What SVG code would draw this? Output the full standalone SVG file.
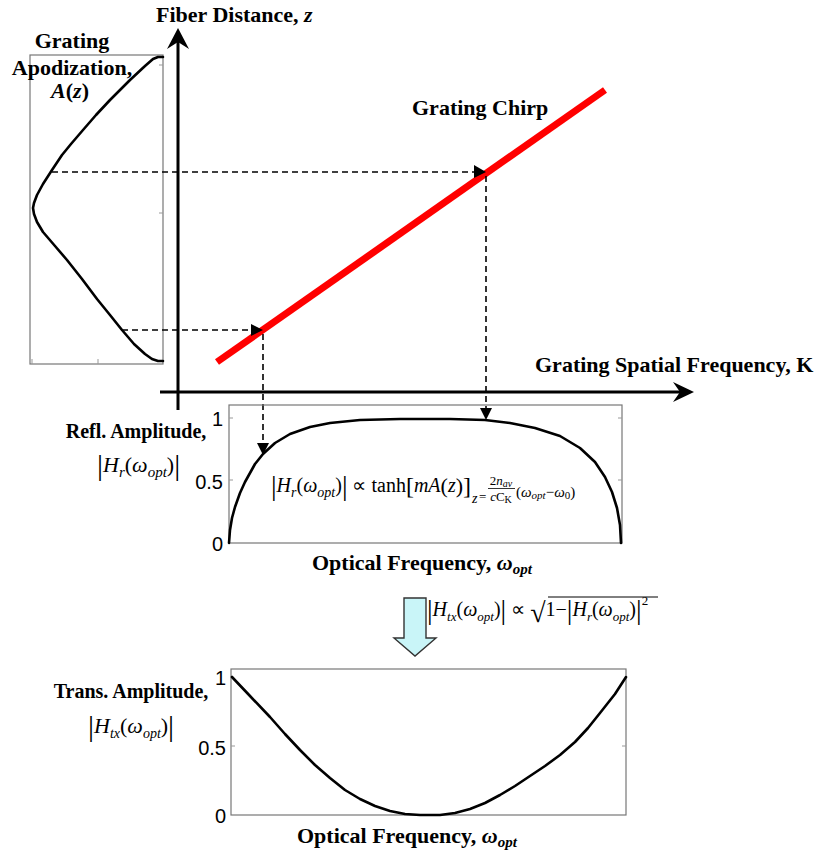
<svg xmlns="http://www.w3.org/2000/svg" width="814" height="854" viewBox="0 0 814 854">
<style>
.lbl{font-family:"Liberation Serif",serif;font-weight:bold;fill:#000}
.m{font-family:"Liberation Serif",serif;fill:#000}
.it{font-style:italic}
.tick{font-family:"Liberation Sans",Arial,sans-serif;font-size:20px;fill:#000}
.box{fill:none;stroke:#777;stroke-width:1.2}
.tk{stroke:#999;stroke-width:1}
.curve{fill:none;stroke:#000;stroke-width:2.6;stroke-linejoin:round;stroke-linecap:round}
.axis{stroke:#000;stroke-width:3}
.dash{stroke:#000;stroke-width:1.6;stroke-dasharray:6 4;fill:none}
.head{fill:#000}
</style>

<g id="apodization">
<rect class="box" x="30" y="55" width="133" height="309"/>
<line class="tk" x1="32" y1="364" x2="32" y2="359"/>
<line class="tk" x1="98" y1="364" x2="98" y2="359"/>
<line class="tk" x1="163" y1="65" x2="159" y2="65"/>
<line class="tk" x1="163" y1="213" x2="159" y2="213"/>
<polyline class="curve" stroke-width="3.6" points="163,57 158,57 153,59 145,66 130,80 110,100 96,115 83,130 71,144 62,155 52,170 43,184 37,195 34,203 33,208 34,214 37,222 43,232 55,246 67,260 82,279 97,299 110,315 122,330 134,344 145,354 152,359 158,361 163,361"/>
<text class="lbl" font-size="22" x="72" y="48" text-anchor="middle">Grating</text>
<text class="lbl" font-size="22" x="72" y="75" text-anchor="middle">Apodization,</text>
<text class="lbl" font-size="22" x="70" y="98" text-anchor="middle"><tspan class="it">A</tspan>(<tspan class="it">z</tspan>)</text>
</g>

<g id="chirp-axes">
<line class="axis" x1="178" y1="410" x2="178" y2="42"/>
<path d="M178,28 L189,49 L178,42 L167,49 Z" fill="#000"/>
<line class="axis" x1="160" y1="392" x2="680" y2="392"/>
<path d="M694,392 L673,382 L680,392 L673,402 Z" fill="#000"/>
<text class="lbl" font-size="22" x="156" y="22">Fiber Distance, <tspan class="it">z</tspan></text>
<text class="lbl" font-size="22" x="535" y="372">Grating Spatial Frequency, K</text>
</g>

<g id="grating-chirp">
<line x1="217" y1="362" x2="605" y2="90" stroke="#ff0000" stroke-width="7"/>
<text class="lbl" font-size="22" x="412" y="115">Grating Chirp</text>
</g>

<g id="connectors">
<line class="dash" x1="52" y1="172" x2="474" y2="172"/>
<line class="dash" x1="486" y1="176" x2="486" y2="408"/>
<line class="dash" x1="122" y1="330" x2="251" y2="330"/>
<line class="dash" x1="263" y1="334" x2="263" y2="443"/>
<path class="head" d="M474,165 L486,172 L474,178 Z"/>
<path class="head" d="M251,324 L263,330 L251,336 Z"/>
<path class="head" d="M480,408 L486,420 L492,408 Z"/>
<path class="head" d="M257,443 L263,455 L269,443 Z"/>
</g>

<g id="refl-plot">
<rect class="box" x="229" y="405" width="393" height="138"/>
<line class="tk" x1="229" y1="418" x2="233" y2="418"/>
<line class="tk" x1="229" y1="480" x2="233" y2="480"/>
<line class="tk" x1="622" y1="418" x2="618" y2="418"/>
<line class="tk" x1="622" y1="480" x2="618" y2="480"/>
<text class="tick" x="223" y="426" text-anchor="end">1</text>
<text class="tick" x="223" y="489" text-anchor="end">0.5</text>
<text class="tick" x="223" y="551" text-anchor="end">0</text>
<polyline class="curve" points="229,543 230,530 232,518 235,507 240,493 245,482 255,464 263,454 275,443 290,434 310,427 330,423 360,420 400,419 450,419 485,420 510,423 535,428 560,436 580,448 595,462 605,477 612,492 617,508 620,525 621,543"/>
<text class="m" font-size="20" x="271" y="492"><tspan font-size="28" dy="3">|</tspan><tspan class="it" dy="-3">H</tspan><tspan class="it" font-size="14" dy="5">r</tspan><tspan dy="-5">(</tspan><tspan class="it">ω</tspan><tspan class="it" font-size="14" dy="5">opt</tspan><tspan dy="-5">)</tspan><tspan font-size="28" dy="3">|</tspan><tspan dy="-3"> ∝ tanh</tspan><tspan font-size="24" dy="2">[</tspan><tspan class="it" dy="-2">mA</tspan><tspan font-size="22" dy="1">(</tspan><tspan class="it" dy="-1">z</tspan><tspan font-size="22" dy="1">)</tspan><tspan font-size="24" dy="1">]</tspan></text>
<text class="m it" font-size="14" x="472" y="503">z</text>
<text class="m" font-size="13" x="479" y="501">=</text>
<text class="m" font-size="13" x="501" y="485" text-anchor="middle">2<tspan class="it">n</tspan><tspan class="it" font-size="10" dy="2">av</tspan></text>
<line x1="488" y1="488.5" x2="515" y2="488.5" stroke="#000" stroke-width="0.8"/>
<text class="m" font-size="13" x="501" y="501" text-anchor="middle"><tspan class="it">c</tspan>C<tspan font-size="10" dy="2">K</tspan></text>
<text class="m" font-size="15" x="516" y="497">(<tspan class="it">ω</tspan><tspan class="it" font-size="11" dy="2">opt</tspan><tspan dy="-2">−</tspan><tspan class="it">ω</tspan><tspan font-size="11" dy="2">0</tspan><tspan dy="-2">)</tspan></text>
<text class="lbl" font-size="20" x="136" y="438" text-anchor="middle">Refl. Amplitude,</text>
<text class="m" font-size="22" x="97" y="472"><tspan font-size="30" dy="3">|</tspan><tspan class="it" dy="-3">H</tspan><tspan class="it" font-size="15" dy="5">r</tspan><tspan dy="-5">(</tspan><tspan class="it">ω</tspan><tspan class="it" font-size="15" dy="5">opt</tspan><tspan dy="-5">)</tspan><tspan font-size="30" dy="3">|</tspan></text>
<text class="lbl" font-size="22" x="312" y="570">Optical Frequency, <tspan class="it">ω</tspan><tspan class="it" font-size="15" dy="4">opt</tspan></text>
</g>

<g id="transform-arrow">
<path d="M404,598 L426,598 L426,638 L436,638 L415,656 L394,638 L404,638 Z" fill="#c9f5f8" stroke="#333" stroke-width="1.4" stroke-linejoin="miter"/>
<text class="m" font-size="20" x="427" y="616"><tspan font-size="28" dy="3">|</tspan><tspan class="it" dy="-3">H</tspan><tspan class="it" font-size="13" dy="5">tx</tspan><tspan dy="-5">(</tspan><tspan class="it">ω</tspan><tspan class="it" font-size="13" dy="5">opt</tspan><tspan dy="-5">)</tspan><tspan font-size="28" dy="3">|</tspan><tspan dy="-3"> ∝ </tspan><tspan font-size="28" dy="6">√</tspan><tspan dy="-6">1−</tspan><tspan font-size="28" dy="3">|</tspan><tspan class="it" dy="-3">H</tspan><tspan class="it" font-size="13" dy="5">r</tspan><tspan dy="-5">(</tspan><tspan class="it">ω</tspan><tspan class="it" font-size="13" dy="5">opt</tspan><tspan dy="-5">)</tspan><tspan font-size="28" dy="3">|</tspan><tspan font-size="13" dy="-14">2</tspan></text>
<line x1="548" y1="597" x2="658" y2="597" stroke="#000" stroke-width="1"/>
</g>

<g id="trans-plot">
<rect class="box" x="231" y="669" width="395" height="146"/>
<line class="tk" x1="231" y1="746" x2="235" y2="746"/>
<line class="tk" x1="626" y1="746" x2="622" y2="746"/>
<text class="tick" x="226" y="685" text-anchor="end">1</text>
<text class="tick" x="226" y="755" text-anchor="end">0.5</text>
<text class="tick" x="226" y="823" text-anchor="end">0</text>
<polyline class="curve" points="232,677 250,696 270,717 285,734 300,750 315,765 330,778 345,790 360,799 375,806 390,811 405,814 420,815 440,815 455,813 470,809 485,803 500,795 515,786 530,776 545,766 560,755 575,742 588,728 600,713 615,694 626,677"/>
<text class="lbl" font-size="20" x="131" y="698" text-anchor="middle">Trans. Amplitude,</text>
<text class="m" font-size="22" x="88" y="733"><tspan font-size="30" dy="3">|</tspan><tspan class="it" dy="-3">H</tspan><tspan class="it" font-size="14" dy="5">tx</tspan><tspan dy="-5">(</tspan><tspan class="it">ω</tspan><tspan class="it" font-size="14" dy="5">opt</tspan><tspan dy="-5">)</tspan><tspan font-size="30" dy="3">|</tspan></text>
<text class="lbl" font-size="22" x="297" y="843">Optical Frequency, <tspan class="it">ω</tspan><tspan class="it" font-size="15" dy="4">opt</tspan></text>
</g>
</svg>
